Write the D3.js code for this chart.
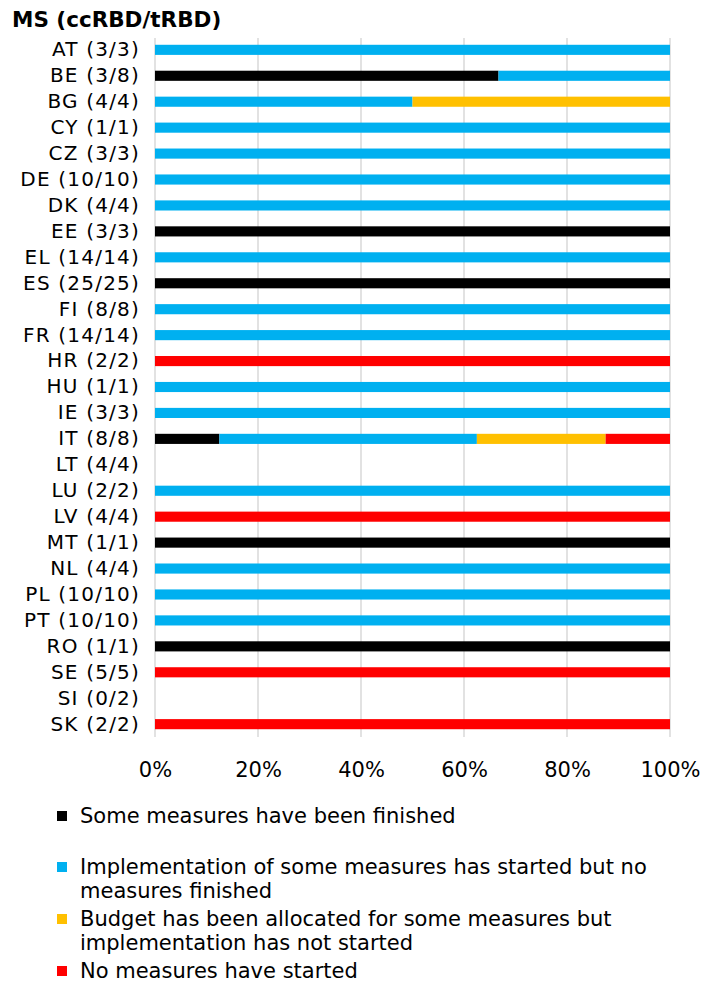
<!DOCTYPE html>
<html>
<head>
<meta charset="utf-8">
<script src="https://cdn.jsdelivr.net/npm/d3@7"></script>
<style>
  body { margin: 0; background: #fff; }
  svg { font-family: "DejaVu Sans", Verdana, sans-serif; }
</style>
</head>
<body>
<div class="canvas"></div>
<script>
var width = 705,
   height = 982;

// categories (member states with ccRBD/tRBD)
var countries = ['AT (3/3)', 'BE (3/8)', 'BG (4/4)', 'CY (1/1)', 'CZ (3/3)', 'DE (10/10)', 'DK (4/4)',
   'EE (3/3)', 'EL (14/14)', 'ES (25/25)', 'FI (8/8)', 'FR (14/14)', 'HR (2/2)', 'HU (1/1)', 'IE (3/3)',
   'IT (8/8)', 'LT (4/4)', 'LU (2/2)', 'LV (4/4)', 'MT (1/1)', 'NL (4/4)', 'PL (10/10)', 'PT (10/10)',
   'RO (1/1)', 'SE (5/5)', 'SI (0/2)', 'SK (2/2)'];

// shares of each status, per country
var finished   = [0, 0.667, 0,   0, 0, 0, 0, 1, 0, 1, 0, 0, 0, 0, 0, 0.125, 0, 0, 0, 1, 0, 0, 0, 1, 0, 0, 0];
var started    = [1, 0.333, 0.5, 1, 1, 1, 1, 0, 1, 0, 1, 1, 0, 1, 1, 0.5,   0, 1, 0, 0, 1, 1, 1, 0, 0, 0, 0];
var budget     = [0, 0,     0.5, 0, 0, 0, 0, 0, 0, 0, 0, 0, 0, 0, 0, 0.25,  0, 0, 0, 0, 0, 0, 0, 0, 0, 0, 0];
var notStarted = [0, 0,     0,   0, 0, 0, 0, 0, 0, 0, 0, 0, 1, 0, 0, 0.125, 0, 0, 1, 0, 0, 0, 0, 0, 1, 0, 1];

var seriesKeys = ['finished', 'started', 'budget', 'notStarted'];
var seriesLabels = [
   ['Some measures have been finished'],
   ['Implementation of some measures has started but no', 'measures finished'],
   ['Budget has been allocated for some measures but', 'implementation has not started'],
   ['No measures have started']
];
var seriesColors = ['#000000', '#00b0f0', '#ffc000', '#ff0000'];
var xTicks = [0, 0.2, 0.4, 0.6, 0.8, 1];

var table = countries.map(function(c, i) {
   return { name: c, finished: finished[i], started: started[i], budget: budget[i], notStarted: notStarted[i] };
});

var stack = d3.stack().keys(seriesKeys);
var stacked = stack(table);

var x = d3.scaleLinear().domain([0, 1]).range([155, 670]);
var y = d3.scaleBand().domain(countries).range([37, 737]).paddingInner(0.61).paddingOuter(0.3);

var svg = d3.select('.canvas')
   .append('svg')
   .attr('width', width)
   .attr('height', height);

// title
svg.append('text')
   .attr('x', 12)
   .attr('y', 27)
   .style('font-size', '21.5px')
   .style('font-weight', 'bold')
   .text('MS (ccRBD/tRBD)');

// gridlines
svg.append('g')
   .selectAll('line')
   .data(xTicks)
   .enter().append('line')
      .attr('x1', d => x(d))
      .attr('x2', d => x(d))
      .attr('y1', 38)
      .attr('y2', 737)
      .attr('stroke', '#d9d9d9')
      .attr('stroke-width', 1.5);

// bars
svg.append('g')
   .selectAll('g')
   .data(stacked)
   .enter().append('g')
      .attr('fill', (d, i) => seriesColors[i])
   .selectAll('rect')
   .data(d => d)
   .enter().append('rect')
      .attr('x', d => x(d[0]))
      .attr('width', d => Math.max(0, x(d[1]) - x(d[0])))
      .attr('y', d => y(d.data.name))
      .attr('height', y.bandwidth());

// y axis labels
var yAxis = d3.axisLeft(y).tickSize(0).tickPadding(15);
var yG = svg.append('g')
   .attr('transform', 'translate(155,0)')
   .call(yAxis);
yG.select('.domain').remove();
yG.selectAll('text')
   .style('font-size', '20px')
   .style('letter-spacing', '1.2px')
   .style('font-family', '"DejaVu Sans", Verdana, sans-serif')
   .attr('fill', '#000');

// x axis labels
var xAxis = d3.axisBottom(x).tickValues(xTicks).tickFormat(d3.format('.0%')).tickSize(0).tickPadding(0);
var xG = svg.append('g')
   .attr('transform', 'translate(0,762)')
   .call(xAxis);
xG.select('.domain').remove();
xG.selectAll('text')
   .style('font-size', '21px')
   .style('font-family', '"DejaVu Sans", Verdana, sans-serif')
   .attr('fill', '#000');

// legend
var legendY = [823, 874, 926, 978];
var legend = svg.append('g')
   .selectAll('g')
   .data(seriesLabels)
   .enter().append('g')
      .attr('transform', (d, i) => 'translate(0,' + legendY[i] + ')');

legend.append('rect')
   .attr('x', 57)
   .attr('y', -12)
   .attr('width', 10)
   .attr('height', 10)
   .attr('fill', (d, i) => seriesColors[i]);

legend.append('text')
   .style('font-size', '21px')
   .selectAll('tspan')
   .data(d => d)
   .enter().append('tspan')
      .attr('x', 80)
      .attr('dy', (d, i) => i === 0 ? 0 : 24)
      .text(d => d);
</script>
</body>
</html>
